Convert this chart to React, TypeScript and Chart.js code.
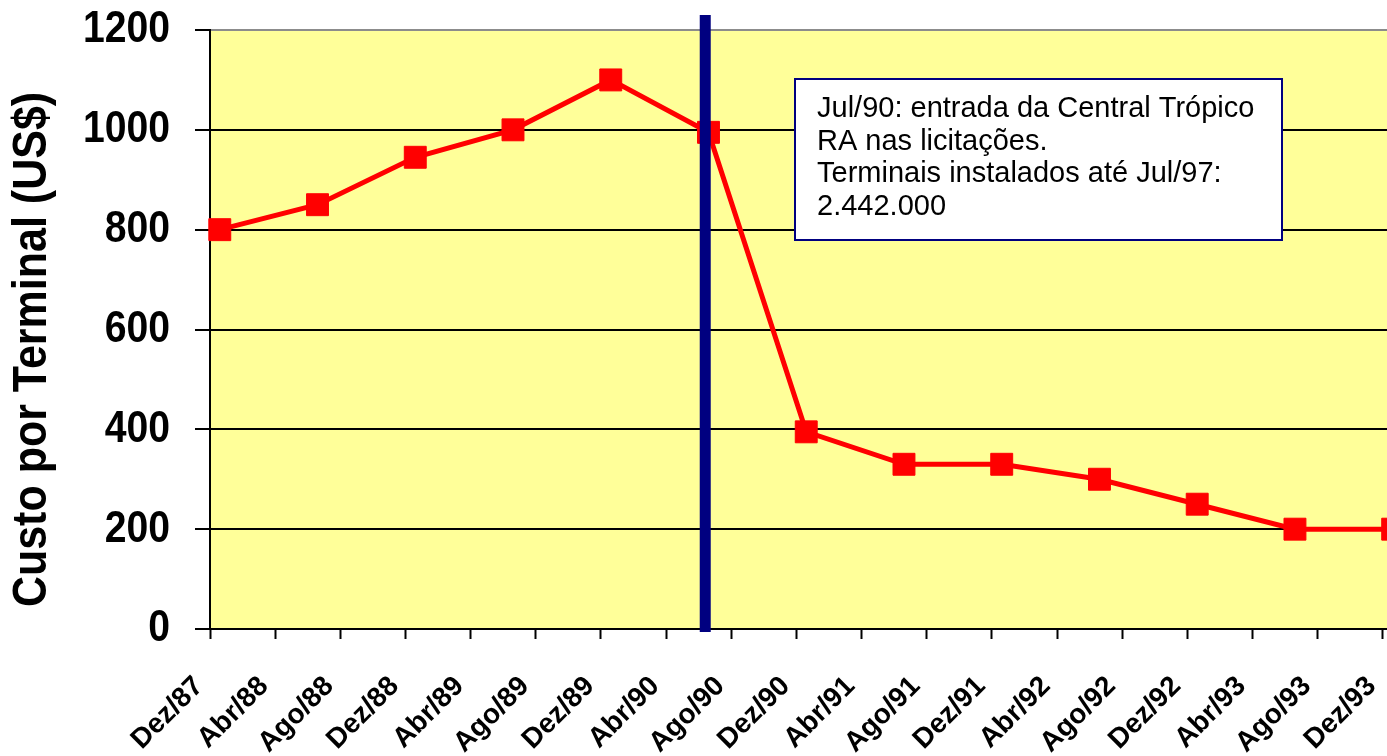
import React, { useEffect, useRef } from 'react';
import { Chart, registerables } from 'chart.js';

Chart.register(...registerables);

// ---- data ----
const xTickLabels = [
  'Dez/87', 'Abr/88', 'Ago/88', 'Dez/88', 'Abr/89', 'Ago/89', 'Dez/89', 'Abr/90', 'Ago/90',
  'Dez/90', 'Abr/91', 'Ago/91', 'Dez/91', 'Abr/92', 'Ago/92', 'Dez/92', 'Abr/93', 'Ago/93', 'Dez/93',
];
const tickStepMonths = 4; // months between labelled ticks
// months elapsed since Dez/87 for each observation (Dez/87, Jun/88, ... Dez/93)
const pointMonths = [0, 6, 12, 18, 24, 30, 36, 42, 48, 54, 60, 66, 72];
const pointDayFraction = 0.6; // observations fall mid-month on the date axis
const costPerTerminal = [800, 850, 945, 1000, 1100, 995, 395, 330, 330, 300, 250, 200, 200];
const yTickValues = [0, 200, 400, 600, 800, 1000, 1200];
const yMin = 0;
const yMax = 1200;
const yStep = 200;
const xMaxMonths = 74;
const markerMonth = 30.4; // Jul/90 event marker position on the date axis
const yTitle = 'Custo por Terminal (US$)';
const noteLines = [
  'Jul/90: entrada da Central Trópico',
  'RA nas licitações.',
  'Terminais instalados até Jul/97:',
  '2.442.000',
];

const CANVAS_W = 1432;
const CANVAS_H = 756;
const SANS = "'Liberation Sans', Arial, sans-serif";

const plotBackground = {
  id: 'plotBackground',
  beforeDraw(chart: any) {
    const { ctx, chartArea: a } = chart;
    ctx.save();
    ctx.fillStyle = '#FFFF99';
    ctx.fillRect(a.left, a.top, a.right - a.left, a.bottom - a.top);
    ctx.restore();
  },
};

const eventMarker = {
  id: 'eventMarker',
  afterDatasetsDraw(chart: any) {
    const { ctx, chartArea: a } = chart;
    const x = chart.scales.x.getPixelForValue(markerMonth);
    ctx.save();
    ctx.fillStyle = '#000080';
    ctx.fillRect(x - 5.5, a.top - 15, 11, a.bottom - a.top + 18);
    ctx.restore();
  },
};

const noteBox = {
  id: 'noteBox',
  afterDraw(chart: any) {
    const { ctx } = chart;
    ctx.save();
    ctx.fillStyle = '#FFFFFF';
    ctx.fillRect(794, 78, 489, 163);
    ctx.strokeStyle = '#000080';
    ctx.lineWidth = 2;
    ctx.strokeRect(795, 79, 487, 161);
    ctx.fillStyle = '#000000';
    ctx.font = `29px ${SANS}`;
    ctx.textAlign = 'left';
    ctx.textBaseline = 'alphabetic';
    noteLines.forEach((line, i) => {
      ctx.fillText(line, 817, 117 + i * 32.7);
    });
    ctx.restore();
  },
};

const yLabels = {
  id: 'yLabels',
  afterDraw(chart: any) {
    const { ctx } = chart;
    const ys = chart.scales.y;
    ctx.save();
    ctx.fillStyle = '#000000';
    ctx.font = `bold 45px ${SANS}`;
    ctx.textAlign = 'right';
    ctx.textBaseline = 'middle';
    yTickValues.forEach((v) => {
      const y = ys.getPixelForValue(v);
      ctx.save();
      ctx.translate(ys.right - 40, y);
      ctx.scale(0.87, 1);
      ctx.fillText(String(v), 0, 0);
      ctx.restore();
    });
    ctx.restore();
  },
};

const axisTitle = {
  id: 'axisTitle',
  afterDraw(chart: any) {
    const { ctx, chartArea: a } = chart;
    ctx.save();
    ctx.translate(33, (a.top + a.bottom) / 2 + 20);
    ctx.rotate(-Math.PI / 2);
    ctx.scale(1, 1.12);
    ctx.fillStyle = '#000000';
    ctx.font = `bold 43px ${SANS}`;
    ctx.textAlign = 'center';
    ctx.textBaseline = 'middle';
    ctx.fillText(yTitle, 0, 0);
    ctx.restore();
  },
};

export default function App() {
  const canvasRef = useRef<HTMLCanvasElement | null>(null);

  useEffect(() => {
    const canvas = canvasRef.current;
    if (!canvas) return;
    const chart = new Chart(canvas, {
      type: 'line',
      data: {
        datasets: [
          {
            label: yTitle,
            data: pointMonths.map((m, i) => ({ x: m + pointDayFraction, y: costPerTerminal[i] })),
            borderColor: '#FF0000',
            borderWidth: 5,
            backgroundColor: '#FF0000',
            pointStyle: 'rect',
            pointRadius: 15.5,
            pointHoverRadius: 15.5,
            pointBackgroundColor: '#FF0000',
            pointBorderColor: '#FF0000',
            pointBorderWidth: 1,
            tension: 0,
            clip: false as any,
          },
        ],
      },
      options: {
        responsive: false,
        maintainAspectRatio: false,
        devicePixelRatio: 1,
        animation: false,
        events: [],
        layout: { padding: { top: 30, right: 0, bottom: 0, left: 0 } },
        plugins: {
          legend: { display: false },
          tooltip: { enabled: false },
          title: { display: false },
        },
        scales: {
          x: {
            type: 'linear',
            min: 0,
            max: xMaxMonths,
            offset: false,
            afterBuildTicks: (scale: any) => {
              scale.ticks = xTickLabels.map((_, i) => ({ value: i * tickStepMonths }));
            },
            afterFit: (scale: any) => {
              scale.height = 127;
              scale.paddingLeft = 0;
              scale.paddingRight = 0;
            },
            grid: {
              drawOnChartArea: false,
              drawTicks: true,
              tickLength: 10,
              tickColor: '#000000',
              tickWidth: 2,
            },
            border: { display: true, color: '#000000', width: 2 },
            ticks: {
              autoSkip: false,
              minRotation: 45,
              maxRotation: 45,
              padding: 31,
              labelOffset: -11,
              color: '#000000',
              font: { family: SANS, size: 28, weight: 'bold' },
              callback: (value: any) => xTickLabels[Math.round(Number(value) / tickStepMonths)] ?? '',
            },
          },
          y: {
            type: 'linear',
            min: yMin,
            max: yMax,
            afterFit: (scale: any) => {
              scale.width = 210;
              scale.paddingTop = 0;
              scale.paddingBottom = 0;
            },
            grid: {
              drawOnChartArea: true,
              drawTicks: true,
              tickLength: 15,
              tickColor: '#000000',
              tickWidth: 2,
              lineWidth: 2,
              color: (ctx: any) => (ctx.tick && ctx.tick.value === yMax ? '#8C8C8C' : '#000000'),
            },
            border: { display: true, color: '#000000', width: 2 },
            ticks: {
              display: false,
              stepSize: yStep,
            },
          },
        },
      },
      plugins: [plotBackground, eventMarker, noteBox, yLabels, axisTitle],
    });
    return () => chart.destroy();
  }, []);

  return (
    <div
      style={{
        position: 'fixed',
        left: 0,
        top: 0,
        width: 1387,
        height: 756,
        overflow: 'hidden',
        background: '#FFFFFF',
      }}
    >
      <canvas ref={canvasRef} width={CANVAS_W} height={CANVAS_H} style={{ display: 'block' }} />
    </div>
  );
}
